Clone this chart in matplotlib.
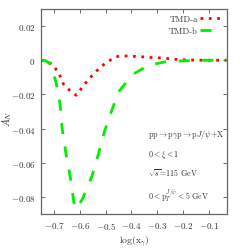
import matplotlib
matplotlib.use('Agg')
import matplotlib.pyplot as plt
from matplotlib.ticker import FuncFormatter

plt.rcParams['mathtext.fontset'] = 'cm'
plt.rcParams['font.family'] = 'cmr10'
plt.rcParams['axes.unicode_minus'] = False

# TMD-a (red dotted)
x_a = [-0.75, -0.735, -0.706, -0.68, -0.663, -0.64, -0.613, -0.589, -0.563, -0.536,
       -0.507, -0.478, -0.452, -0.418, -0.388, -0.356, -0.323, -0.291, -0.258,
       -0.226, -0.193, -0.16, -0.12, -0.08, -0.03]
y_a = [0.0, -0.0004, -0.0023, -0.0078, -0.014, -0.0175, -0.0205, -0.0155, -0.0107, -0.0064,
       -0.0025, 0.0004, 0.0023, 0.0025, 0.0023, 0.002, 0.0016, 0.0014, 0.001,
       0.0005, 0.0002, 0.0001, 0.0, 0.0, 0.0]

# TMD-b (green dashed)
x_b = [-0.75, -0.735, -0.715, -0.692, -0.676, -0.668, -0.653, -0.636, -0.623, -0.615,
       -0.605, -0.589, -0.553, -0.528, -0.505, -0.473, -0.447, -0.395, -0.333,
       -0.268, -0.203, -0.15, -0.1, -0.05, -0.03]
y_b = [0.0, 0.0, -0.002, -0.0126, -0.026, -0.04, -0.055, -0.069, -0.083, -0.087,
       -0.085, -0.081, -0.068, -0.055, -0.042, -0.028, -0.018, -0.0083, -0.0029,
       -0.0009, -0.0004, -0.0001, 0.0, 0.0, 0.0]

fig = plt.figure(figsize=(2.40, 2.51), dpi=100)
ax = fig.add_axes([41/240, 36/251, 186/240, 205/251])

ax.plot(x_a, y_a, color='#ff0000', lw=2.0, ls=(0, (1.0, 2.0)), label='TMD-a')
ax.plot(x_b, y_b, color='#00ee00', lw=2.0, ls=(0, (4.0, 4.5)), label='TMD-b')

ax.set_xlim(-0.75, -0.03)
ax.set_ylim(-0.09, 0.03)
ax.set_xticks([-0.7, -0.6, -0.5, -0.4, -0.3, -0.2, -0.1])
ax.set_yticks([-0.08, -0.06, -0.04, -0.02, 0, 0.02])
fmt = FuncFormatter(lambda v, p: r'$%g$' % round(v, 3))
ax.xaxis.set_major_formatter(fmt)
ax.yaxis.set_major_formatter(fmt)
ax.tick_params(direction='in', top=True, right=True, labelsize=6.5, length=3,
               color='#555555', width=0.6, pad=4, labelcolor='#333333')
for s in ax.spines.values():
    s.set_color('#666666')
    s.set_linewidth(0.9)

ax.set_xlabel(r'$\log(\mathrm{x}_\gamma)$', fontsize=7, color='#333333')
ax.xaxis.set_label_coords(0.5, -0.095)
ax.set_ylabel(r'$A_N$', fontsize=7.5, color='#333333')
ax.yaxis.set_label_coords(-0.145, 0.47)

ax.legend(loc='upper right', markerfirst=False, frameon=False, fontsize=6.3,
          handlelength=2.4, borderaxespad=0.25, labelspacing=0.45, handletextpad=0.3,
          labelcolor='#333333')

tx = -0.337
ts = 5.8
ax.text(tx, -0.0427, r'$\mathrm{pp}\rightarrow\mathrm{p}\gamma\mathrm{p}\rightarrow\mathrm{p}J/\psi\!+\!\mathrm{X}$',
        fontsize=ts, va='center', color='#333333')
ax.text(tx, -0.0547, r'$0<\xi<1$', fontsize=ts, va='center', color='#333333')
ax.text(tx, -0.0658, r'$\sqrt{s}$=115 GeV', fontsize=ts, va='center', color='#333333')
ax.text(tx, -0.0787, r'$0<\mathrm{p}_T^{J/\psi}<5\ \mathrm{GeV}$', fontsize=ts, va='center', color='#333333')

fig.savefig('out.png', dpi=100)
